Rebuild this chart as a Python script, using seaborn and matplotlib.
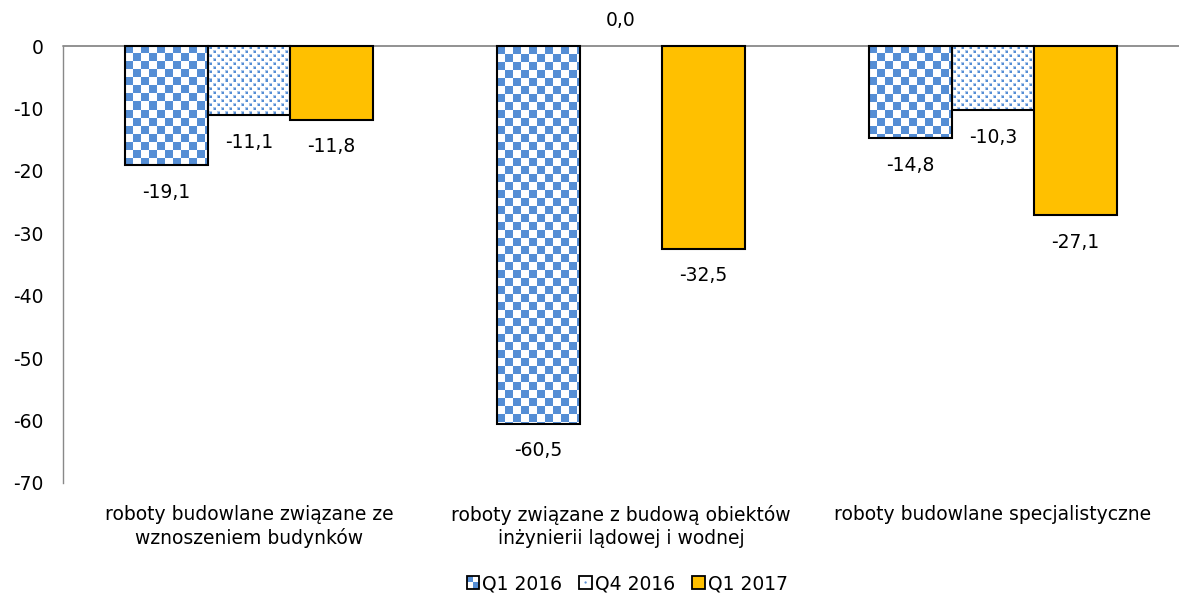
import numpy as np
import pandas as pd
import matplotlib
matplotlib.use("Agg")
import matplotlib.pyplot as plt
from matplotlib.patches import Rectangle, Circle
from matplotlib.legend_handler import HandlerBase
import seaborn as sns

categories = [
    "roboty budowlane związane ze\nwznoszeniem budynków",
    "roboty związane z budową obiektów\ninżynierii lądowej i wodnej",
    "roboty budowlane specjalistyczne",
]
series = ["Q1 2016", "Q4 2016", "Q1 2017"]
q1_2016 = [-19.1, -60.5, -14.8]
q4_2016 = [-11.1, 0.0, -10.3]
q1_2017 = [-11.8, -32.5, -27.1]
y_ticks = [0, -10, -20, -30, -40, -50, -60, -70]

BLUE = "#558ED5"
GOLD = "#FFC000"
GRID_GREY = "#898989"
FONT_SIZE = 13.5

df = pd.DataFrame({
    "kategoria": np.repeat(categories, len(series)),
    "okres": series * len(categories),
    "wartosc": [v for trio in zip(q1_2016, q4_2016, q1_2017) for v in trio],
})

sns.set_theme(style="white")
plt.rcParams["font.family"] = ["DejaVu Sans"]
plt.rcParams["text.color"] = "black"

fig = plt.figure(figsize=(11.79, 6.01), dpi=100)
ax = fig.add_axes([63 / 1179, 1 - 483 / 601, 1 - 63 / 1179, (483 - 46) / 601])

palette = {"Q1 2016": BLUE, "Q4 2016": "white", "Q1 2017": GOLD}
sns.barplot(data=df, x="kategoria", y="wartosc", hue="okres", order=categories,
            hue_order=series, palette=palette, width=0.667, dodge=True,
            edgecolor="black", linewidth=1.5, saturation=1, legend=False, ax=ax)

ax.set_xlim(-0.5, 2.5)
ax.set_ylim(-70, 0)


def checker_pattern(w, h, cell=8):
    yy, xx = np.mgrid[0:h, 0:w]
    mask = ((xx // cell) + (yy // cell)) % 2 == 0
    img = np.ones((h, w, 3))
    img[mask] = matplotlib.colors.to_rgb(BLUE)
    return img


def dot_pattern(w, h):
    img = np.ones((h, w, 3))
    blue = np.array(matplotlib.colors.to_rgb(BLUE))
    halo = 0.5 * blue + 0.5
    for r in range(2, h - 1, 4):
        off = 2 if (r // 4) % 2 == 0 else 6
        for c in range(off, w - 1, 8):
            img[r - 1:r + 2, c - 1:c + 2] = halo
            img[r:r + 2, c:c + 2] = blue
    return img


fig.canvas.draw()
patterns = {0: checker_pattern, 1: dot_pattern}
for idx, container in enumerate(ax.containers):
    for bar in container:
        bar.set_clip_on(False)
        bar.set_zorder(3)
        if bar.get_height() == 0:
            bar.set_visible(False)
            continue
        if idx in patterns:
            bb = bar.get_window_extent()
            w = max(int(round(bb.width)), 1)
            h = max(int(round(bb.height)), 1)
            img = patterns[idx](w, h)
            x0 = bar.get_x()
            x1 = x0 + bar.get_width()
            y0 = bar.get_y()
            y1 = y0 + bar.get_height()
            ax.imshow(img, extent=(x0, x1, min(y0, y1), max(y0, y1)),
                      origin="upper", interpolation="nearest", aspect="auto",
                      zorder=2.5)
            bar.set_facecolor("none")

ax.set_xlim(-0.5, 2.5)
ax.set_ylim(-70, 0)

# value labels below bar ends (above the baseline for zero)
for container in ax.containers:
    for bar in container:
        v = bar.get_height()
        xc = bar.get_x() + bar.get_width() / 2
        txt = f"{v:.1f}".replace(".", ",").replace("-0,0", "0,0")
        off = 26 if v == 0 else -27
        ax.annotate(txt, (xc, v), xytext=(0, off * 0.72), textcoords="offset points",
                    ha="center", va="center", fontsize=FONT_SIZE, color="black",
                    annotation_clip=False)

ax.axhline(0, color=GRID_GREY, lw=1.3, zorder=2, clip_on=False)

for s in ["top", "right", "bottom"]:
    ax.spines[s].set_visible(False)
ax.spines["left"].set_color(GRID_GREY)
ax.spines["left"].set_linewidth(1.0)

ax.set_yticks(y_ticks)
ax.set_yticklabels([str(t) for t in y_ticks])
ax.tick_params(axis="y", length=0, pad=14, labelsize=FONT_SIZE, colors="black")
ax.tick_params(axis="x", length=0, pad=15.5, labelsize=FONT_SIZE, colors="black")
for lab in ax.get_xticklabels():
    lab.set_linespacing(1.3)
ax.set_xlabel("")
ax.set_ylabel("")
ax.grid(False)


class SwatchHandler(HandlerBase):
    def __init__(self, kind):
        super().__init__()
        self.kind = kind

    def create_artists(self, legend, orig_handle, xdescent, ydescent, width,
                       height, fontsize, trans):
        s = height
        x0 = width - s - xdescent
        y0 = -ydescent
        arts = []
        if self.kind == "checker":
            arts.append(Rectangle((x0, y0), s, s, facecolor="white", edgecolor="none", transform=trans))
            arts.append(Rectangle((x0, y0 + s / 2), s / 2, s / 2, facecolor=BLUE, edgecolor="none", transform=trans))
            arts.append(Rectangle((x0 + s / 2, y0), s / 2, s / 2, facecolor=BLUE, edgecolor="none", transform=trans))
            face = "none"
        elif self.kind == "dots":
            arts.append(Rectangle((x0, y0), s, s, facecolor="white", edgecolor="none", transform=trans))
            arts.append(Circle((x0 + s / 2, y0 + s / 2), s * 0.09, facecolor=BLUE, edgecolor="none", transform=trans))
            face = "none"
        else:
            face = GOLD
        arts.append(Rectangle((x0, y0), s, s, facecolor=face, edgecolor="black", lw=1.3, transform=trans))
        return arts


handles = [Rectangle((0, 0), 1, 1) for _ in series]
kinds = ["checker", "dots", "solid"]
fig.legend(handles, series, loc="center", bbox_to_anchor=(0.532, 0.029), ncol=3,
           frameon=False, fontsize=FONT_SIZE, handlelength=0.65, handleheight=0.65,
           handletextpad=0.15, columnspacing=0.95, labelcolor="black",
           handler_map={h: SwatchHandler(k) for h, k in zip(handles, kinds)})

fig.savefig("out.png", dpi=100)
